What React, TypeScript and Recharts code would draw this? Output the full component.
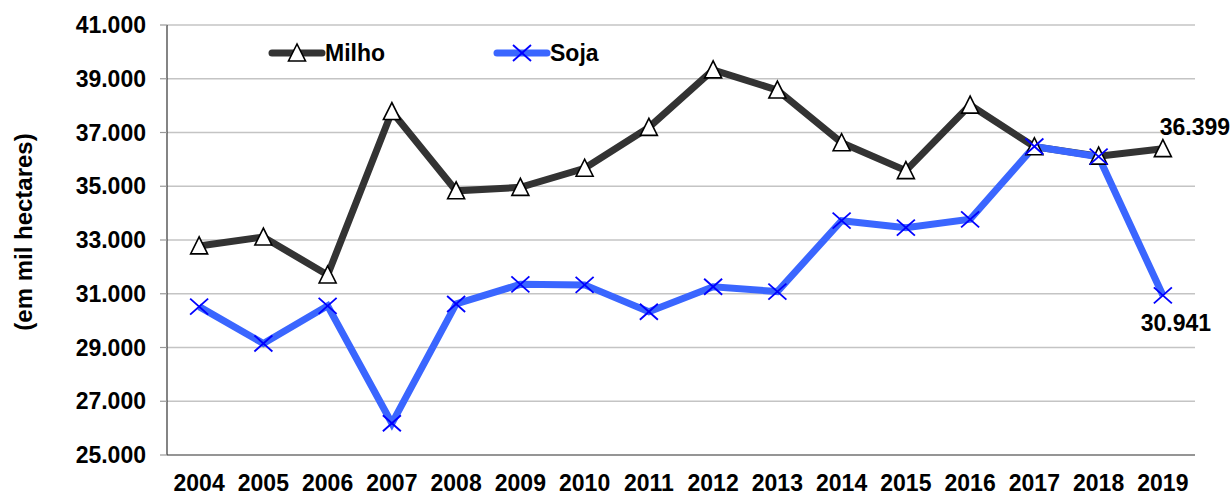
import React from 'react';
import { LineChart, Line, XAxis, YAxis, CartesianGrid, Legend, LabelList } from 'recharts';

// área plantada (em mil hectares)
const years = ['2004', '2005', '2006', '2007', '2008', '2009', '2010', '2011', '2012', '2013', '2014', '2015', '2016', '2017', '2018', '2019'];
const milho = [32780, 33110, 31700, 37780, 34830, 34960, 35670, 37190, 39330, 38580, 36620, 35580, 38020, 36470, 36120, 36399];
const soja = [30520, 29150, 30550, 26180, 30620, 31350, 31330, 30330, 31260, 31080, 33720, 33460, 33770, 36480, 36100, 30941];
const yTicks = [25000, 27000, 29000, 31000, 33000, 35000, 37000, 39000, 41000];

const FONT = '"Liberation Sans", Arial, sans-serif';
const MILHO_COLOR = '#333333';
const SOJA_COLOR = '#3a66ff';
const X_COLOR = '#0000ff';

// 31000 -> "31.000"
const fmt = (v: number) => String(Math.round(v)).replace(/\B(?=(\d{3})+(?!\d))/g, '.');

const rows = years.map((year, i) => ({ x: i + 0.5, year, milho: milho[i], soja: soja[i] }));
const bounds = years.map((_, i) => i).concat(years.length);
const centers = years.map((_, i) => i + 0.5);
const last = years.length - 1;

const Triangle = (props: any) => {
  const { cx, cy, key } = props;
  if (cx == null || cy == null) return <g key={key} />;
  return (
    <polygon
      key={key}
      points={`${cx},${cy - 9} ${cx - 8.5},${cy + 8} ${cx + 8.5},${cy + 8}`}
      fill="#fff"
      stroke="#000"
      strokeWidth={1.6}
    />
  );
};

const Cross = (props: any) => {
  const { cx, cy, key } = props;
  if (cx == null || cy == null) return <g key={key} />;
  return (
    <g key={key} stroke={X_COLOR} strokeWidth={1.8}>
      <line x1={cx - 9} y1={cy - 8} x2={cx + 9} y2={cy + 8} />
      <line x1={cx - 9} y1={cy + 8} x2={cx + 9} y2={cy - 8} />
    </g>
  );
};

const lastLabel = (series: number[], dx: number, dy: number) => (props: any) => {
  const { x, y, index, value } = props;
  const isLast = index != null ? index === last : value === series[last];
  if (!isLast) return null;
  return (
    <text x={x + dx} y={y + dy} textAnchor="middle" dominantBaseline="central"
      fontFamily={FONT} fontWeight="bold" fontSize={23} fill="#000">
      {fmt(value)}
    </text>
  );
};

const LegendContent = (props: any) => {
  const items = props.payload || [];
  return (
    <svg width={380} height={30}>
      {items.map((entry: any, i: number) => {
        const ox = i * 225;
        const isMilho = entry.dataKey === 'milho';
        return (
          <g key={entry.value}>
            <line x1={ox + 12} y1={15} x2={ox + 62} y2={15} strokeLinecap="round"
              stroke={isMilho ? MILHO_COLOR : SOJA_COLOR} strokeWidth={7} />
            {isMilho ? <Triangle cx={ox + 37} cy={15} /> : <Cross cx={ox + 37} cy={15} />}
            <text x={ox + 65} y={23} fontFamily={FONT} fontWeight="bold" fontSize={23} fill="#000">
              {entry.value}
            </text>
          </g>
        );
      })}
    </svg>
  );
};

const YLabel = (props: any) => {
  const { viewBox } = props;
  const cy = viewBox.y + viewBox.height / 2 - 8;
  const cx = viewBox.x + 23;
  return (
    <text x={cx} y={cy} transform={`rotate(-90, ${cx}, ${cy})`} textAnchor="middle" dominantBaseline="central"
      fontFamily={FONT} fontWeight="bold" fontSize={24} fill="#000">
      (em mil hectares)
    </text>
  );
};

const tickStyle = { fontFamily: FONT, fontWeight: 'bold', fontSize: 23, fill: '#000' };

export default function App() {
  return (
    <div style={{ position: 'absolute', left: 0, top: 0, background: '#fff' }}>
      <LineChart width={1231} height={495} data={rows} margin={{ top: 25, right: 36, bottom: 0, left: 0 }}>
        <CartesianGrid xAxisId="grid" vertical={false} stroke="#c4c4c4" strokeWidth={1.3} />
        <XAxis xAxisId="grid" dataKey="x" type="number" domain={[0, 16]} ticks={bounds} interval={0}
          height={1} tick={false} tickSize={7} stroke="#808080" strokeWidth={1.5}
          tickLine={{ stroke: '#333', strokeWidth: 1.2 }} />
        <XAxis xAxisId="labels" dataKey="x" type="number" domain={[0, 16]} ticks={centers} interval={0}
          height={39} axisLine={false} tickLine={false} tickSize={0} tickMargin={19}
          tickFormatter={(v: number) => years[Math.floor(v)]} tick={tickStyle} />
        <YAxis domain={[25000, 41000]} ticks={yTicks} interval={0} width={167} tickFormatter={fmt}
          tick={tickStyle} tickSize={7} tickMargin={14} stroke="#333" strokeWidth={1.2}
          tickLine={{ stroke: '#999' }} label={<YLabel />} />
        <Legend layout="vertical" align="center" verticalAlign="middle" content={<LegendContent />}
          wrapperStyle={{ position: 'absolute', left: 260, top: 38, width: 380 }} />
        <Line xAxisId="grid" dataKey="milho" name="Milho" stroke={MILHO_COLOR} strokeWidth={7}
          dot={Triangle} activeDot={false} isAnimationActive={false}>
          <LabelList dataKey="milho" content={lastLabel(milho, 32, -22)} />
        </Line>
        <Line xAxisId="grid" dataKey="soja" name="Soja" stroke={SOJA_COLOR} strokeWidth={7}
          dot={Cross} activeDot={false} isAnimationActive={false}>
          <LabelList dataKey="soja" content={lastLabel(soja, 13, 28)} />
        </Line>
      </LineChart>
    </div>
  );
}
